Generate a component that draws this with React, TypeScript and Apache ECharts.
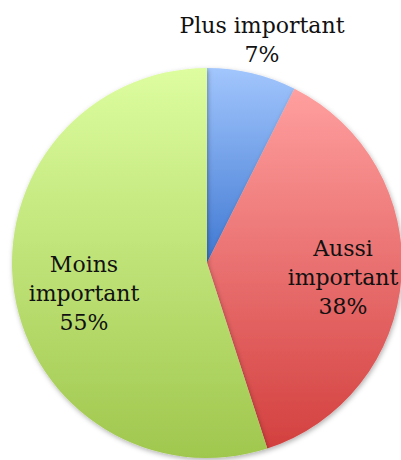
import React, { useEffect, useRef } from "react";
import * as echarts from "echarts";

const categories = ["Plus important", "Aussi important", "Moins important"];
const values = [7.4, 37.6, 55];
const topColors = ["#a2c6fd", "#ff9f9f", "#ddfd9f"];
const bottomColors = ["#3f78d2", "#d3403f", "#a0c74e"];
const labelCenters: [number, number][] = [
  [262, 40],
  [343, 277],
  [84, 293],
];

export default function App() {
  const ref = useRef<HTMLDivElement>(null);
  useEffect(() => {
    if (!ref.current) return;
    const chart = echarts.init(ref.current, undefined, { renderer: "svg" });
    const data = categories.map((name, i) => ({
      name,
      value: values[i],
      itemStyle: {
        color: new echarts.graphic.LinearGradient(0, 0, 0, 1, [
          { offset: 0, color: topColors[i] },
          { offset: 1, color: bottomColors[i] },
        ]),
      },
    }));
    chart.setOption({
      animation: false,
      backgroundColor: "#ffffff",
      series: [
        {
          type: "pie",
          center: [207, 263],
          radius: [0, 195],
          startAngle: 90,
          clockwise: true,
          data,
          itemStyle: {
            shadowBlur: 5,
            shadowOffsetX: 1,
            shadowOffsetY: 2,
            shadowColor: "rgba(0,0,0,0.3)",
          },
          label: {
            show: true,
            position: "inside",
            formatter: (p: any) => {
              const parts = p.name.split(" ");
              const nameText = p.dataIndex === 0 ? p.name : parts.join("\n");
              return nameText + "\n" + Math.round(p.value) + "%";
            },
            fontFamily: "DejaVu Serif",
            fontSize: 22,
            lineHeight: 29,
            color: "#111111",
            align: "center",
          },
          labelLine: { show: false },
          labelLayout: (params: any) => {
            const c = labelCenters[params.dataIndex];
            return { x: c[0], y: c[1], align: "center", verticalAlign: "middle" };
          },
        },
      ],
    });
    return () => chart.dispose();
  }, []);
  return (
    <div
      ref={ref}
      style={{ position: "absolute", left: 0, top: 0, width: 401, height: 460 }}
    />
  );
}
